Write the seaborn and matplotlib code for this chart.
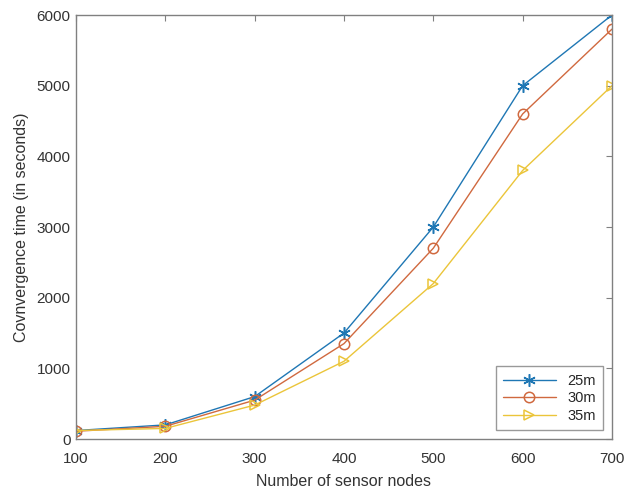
import matplotlib
matplotlib.use("Agg")
import matplotlib.pyplot as plt
import seaborn as sns
import pandas as pd

nodes = [100, 200, 300, 400, 500, 600, 700]
t_25m = [120, 200, 600, 1500, 3000, 5000, 6000]
t_30m = [110, 180, 550, 1350, 2700, 4600, 5800]
t_35m = [120, 150, 480, 1100, 2200, 3800, 5000]
series_names = ["25m", "30m", "35m"]

df = pd.DataFrame({
    "nodes": nodes * 3,
    "time": t_25m + t_30m + t_35m,
    "range": [series_names[0]] * 7 + [series_names[1]] * 7 + [series_names[2]] * 7,
})

sns.set_style("white")
plt.rcParams["font.family"] = ["Liberation Sans", "DejaVu Sans"]

fig = plt.figure(figsize=(6.26, 4.92), dpi=100)
ax = fig.add_axes([0.1214, 0.1077, 0.8562, 0.8618])

palette = {"25m": "#1F77B4", "30m": "#D0693F", "35m": "#EBC53A"}
markers = {"25m": (6, 2, 0), "30m": "o", "35m": ">"}
msizes = {"25m": 9, "30m": 7.5, "35m": 7.5}
for name in series_names:
    sub = df[df["range"] == name]
    sns.lineplot(data=sub, x="nodes", y="time", ax=ax, color=palette[name],
                 marker=markers[name], markersize=msizes[name],
                 markerfacecolor="none", markeredgecolor=palette[name],
                 markeredgewidth=1.1, linewidth=1.0, label=name)

ax.set_xlim(100, 700)
ax.set_ylim(0, 6000)
ax.set_xticks(nodes)
ax.set_yticks(range(0, 6001, 1000))
ax.set_xlabel("Number of sensor nodes", fontsize=11.5, color="#333333", labelpad=6)
ax.set_ylabel("Covnvergence time (in seconds)", fontsize=11.5, color="#333333", labelpad=5)
ax.tick_params(direction="in", top=True, right=True, length=4, width=0.8,
               color="#808080", labelcolor="#333333", labelsize=11, pad=4)
ax.tick_params(axis="x", pad=9)
for s in ax.spines.values():
    s.set_color("#808080")
    s.set_linewidth(1.0)

leg = ax.legend(loc="lower right", fontsize=10.5, frameon=True, fancybox=False,
                edgecolor="#808080", borderaxespad=0.6, handlelength=3.6,
                labelspacing=0.25, borderpad=0.5)
leg.get_frame().set_linewidth(1.0)

fig.savefig("out.png", dpi=100)
